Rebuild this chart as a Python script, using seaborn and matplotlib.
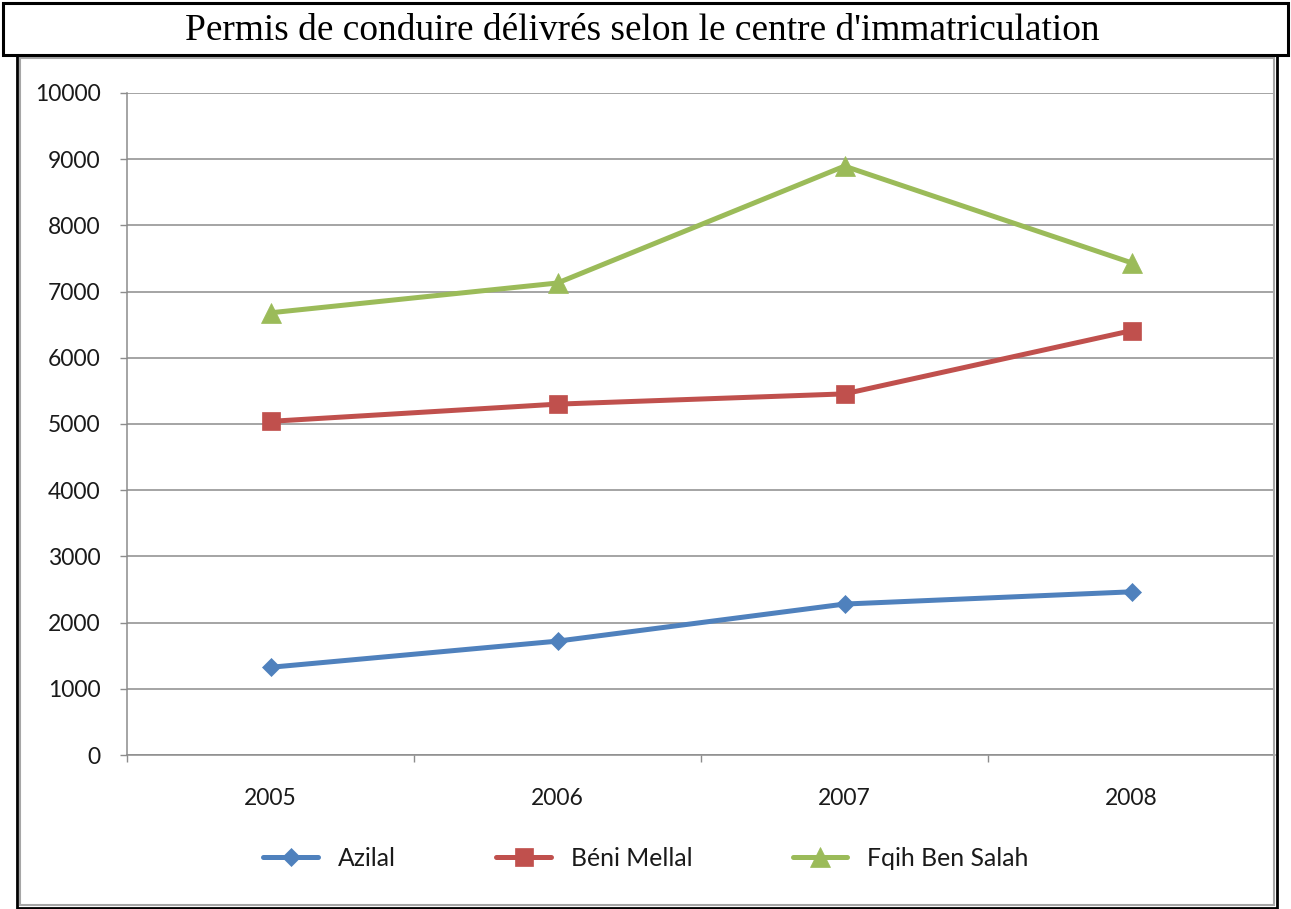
import matplotlib
matplotlib.use("Agg")
import matplotlib.pyplot as plt
from matplotlib.patches import Rectangle
from matplotlib.ticker import FixedLocator
import seaborn as sns
import pandas as pd

# ---- data ----
years = [2005, 2006, 2007, 2008]
azilal = [1325, 1720, 2280, 2465]
beni_mellal = [5040, 5300, 5455, 6410]
fqih_ben_salah = [6680, 7130, 8895, 7435]
series_names = ["Azilal", "Béni Mellal", "Fqih Ben Salah"]
y_ticks = [0, 1000, 2000, 3000, 4000, 5000, 6000, 7000, 8000, 9000, 10000]
title = "Permis de conduire délivrés selon le centre d'immatriculation"

colors = ["#4F81BD", "#C0504D", "#9BBB59"]
markers = ["D", "s", "^"]
msizes = [9.5, 13, 14]

df = pd.concat([
    pd.DataFrame({"year": years, "value": vals, "centre": name})
    for name, vals in zip(series_names, [azilal, beni_mellal, fqih_ben_salah])
], ignore_index=True)

sns.set_style("white")
plt.rcParams["font.family"] = ["Lato", "DejaVu Sans"]

W, H = 1291, 909
fig = plt.figure(figsize=(W / 100, H / 100), dpi=100)

def fx(px):
    return px / W

def fy(py):
    return 1 - py / H

# plot area
left, right, top, bottom = 127, 1275, 93, 755
ax = fig.add_axes([fx(left), fy(bottom), fx(right - left), (bottom - top) / H])
ax.set_facecolor("none")

sns.lineplot(
    data=df, x="year", y="value", hue="centre", style="centre",
    hue_order=series_names, style_order=series_names,
    palette=dict(zip(series_names, colors)),
    markers=dict(zip(series_names, markers)), dashes=False,
    linewidth=3.6, legend=False, ax=ax, sort=True,
)
for line, ms, c in zip(ax.lines, msizes, colors):
    line.set_markersize(ms)
    line.set_markeredgewidth(0.5)
    line.set_markeredgecolor(c)
    line.set_markerfacecolor(c)
    line.set_zorder(3)

ax.set_xlim(years[0] - 0.5, years[-1] + 0.5)
ax.set_ylim(y_ticks[0], y_ticks[-1])
ax.set_xlabel("")
ax.set_ylabel("")

grid_c = "#8C8C8C"
ax.set_yticks(y_ticks)
ax.set_yticklabels([str(v) for v in y_ticks])
ax.yaxis.grid(True, color=grid_c, linewidth=1.1)
ax.xaxis.grid(False)
ax.set_axisbelow(True)

ax.set_xticks(years)
ax.set_xticklabels([str(y) for y in years])
ax.xaxis.set_minor_locator(FixedLocator([y + 0.5 for y in [years[0] - 1] + years[:-1]]))

for s in ["top", "right"]:
    ax.spines[s].set_visible(False)
for s in ["left", "bottom"]:
    ax.spines[s].set_color(grid_c)
    ax.spines[s].set_linewidth(1.1)

ax.tick_params(axis="y", which="major", left=True, length=5, width=1, color=grid_c,
               pad=14, labelsize=16.5, labelcolor="#1a1a1a")
ax.tick_params(axis="x", which="major", bottom=True, length=0, pad=24,
               labelsize=16.5, labelcolor="#1a1a1a")
ax.tick_params(axis="x", which="minor", bottom=True, length=5, width=1, color=grid_c)

# legend
leg = fig.legend(
    handles=ax.lines[:3], labels=series_names, ncol=3, frameon=False,
    loc="center", bbox_to_anchor=(fx(646), fy(858)),
    fontsize=17.8, handlelength=2.22, handletextpad=0.8, columnspacing=4.05,
)
for t in leg.get_texts():
    t.set_color("#1a1a1a")

# frames
fig.patches.append(Rectangle((fx(20), fy(905)), fx(1274 - 20), (905 - 58) / H,
                             transform=fig.transFigure, fill=False,
                             edgecolor="#A6A6A6", linewidth=1.5, zorder=0))
fig.patches.append(Rectangle((fx(16.5), fy(907.5)), fx(1277 - 16.5), (907.5 - 55) / H,
                             transform=fig.transFigure, fill=False,
                             edgecolor="black", linewidth=2, zorder=0))
fig.patches.append(Rectangle((fx(2.5), fy(55)), fx(1288 - 2.5), (55 - 2.5) / H,
                             transform=fig.transFigure, facecolor="white",
                             edgecolor="black", linewidth=2.2, zorder=1))
fig.text(fx(642.5), fy(31), title, ha="center", va="center",
         fontsize=26.9, family=["Liberation Serif", "DejaVu Serif"], color="black")

fig.savefig("out.png", dpi=100)
